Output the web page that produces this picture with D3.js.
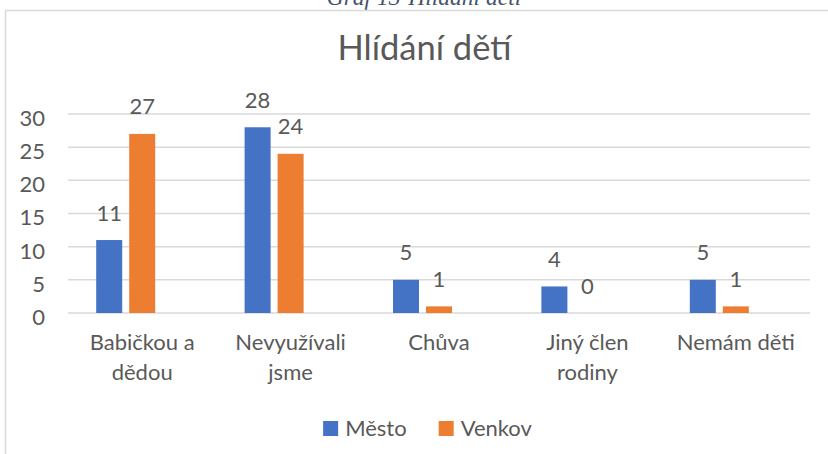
<!DOCTYPE html>
<html>
<head>
<meta charset="utf-8">
<script src="https://cdn.jsdelivr.net/npm/d3@7"></script>
<style>
  body { margin: 0; background: #fff; }
  text { font-family: Lato, "Open Sans", sans-serif; fill: #595959; }
</style>
</head>
<body>
<div id="chart"></div>
<script>
// data
const categories = ['Babičkou a dědou', 'Nevyužívali jsme', 'Chůva', 'Jiný člen rodiny', 'Nemám děti'];
const mesto = [11, 28, 5, 4, 5];
const venkov = [27, 24, 1, 0, 1];
const seriesNames = ['Město', 'Venkov'];
const seriesColors = ['#4472c4', '#ed7d31'];
const yTicks = [0, 5, 10, 15, 20, 25, 30];
const title = 'Hlídání dětí';
const caption = 'Graf 13-Hlídání dětí';

const W = 828, H = 454;
const plot = { left: 68, right: 810, top: 114, bottom: 313 };
const fs = '22px';

const svg = d3.select('#chart')
              .append('svg')
              .attr('width', W)
              .attr('height', H);

// caption above the chart frame (cut off at the top, like the source)
svg.append('text')
   .attr('x', 424)
   .attr('y', 5)
   .attr('text-anchor', 'middle')
   .style('font-family', '"Liberation Serif", serif')
   .style('font-style', 'italic')
   .style('font-size', '23.5px')
   .style('fill', '#44546a')
   .text(caption);

// chart frame
svg.append('rect')
   .attr('x', 5.5)
   .attr('y', 10.5)
   .attr('width', 1000)
   .attr('height', 1000)
   .attr('fill', 'none')
   .attr('stroke', '#d9d9d9')
   .attr('stroke-width', 1.5);

svg.append('text')
   .attr('x', 424.5)
   .attr('y', 60)
   .attr('text-anchor', 'middle')
   .style('font-size', '34.5px')
   .text(title);

const x0 = d3.scaleBand()
             .domain(categories)
             .range([plot.left, plot.right]);

// third empty slot: the original chart keeps room for a blank series
const x1 = d3.scaleBand()
             .domain([...seriesNames, ''])
             .range([0, x0.bandwidth()])
             .paddingInner(7 / 33)
             .paddingOuter(0.8545);

const y = d3.scaleLinear()
            .domain([0, 30])
            .range([plot.bottom, plot.top]);

// gridlines
svg.append('g')
   .selectAll('line')
   .data(yTicks)
   .enter()
   .append('line')
   .attr('x1', plot.left)
   .attr('x2', plot.right)
   .attr('y1', d => y(d))
   .attr('y2', d => y(d))
   .attr('stroke', '#d9d9d9')
   .attr('stroke-width', 1.5);

// y labels
const yAxis = d3.axisLeft(y).tickValues(yTicks).tickSize(0).tickPadding(23);
const yG = svg.append('g')
              .attr('transform', `translate(${plot.left}, 0)`)
              .call(yAxis);
yG.select('.domain').remove();
yG.selectAll('text')
  .attr('dy', '0.7em')
  .attr('y', -4)
  .style('font-size', fs)
  .style('font-family', 'Lato, sans-serif')
  .attr('fill', '#595959');

// bars
const rows = categories.map((c, i) => ({ cat: c, vals: [mesto[i], venkov[i]] }));

const groups = svg.selectAll('.grp')
                  .data(rows)
                  .enter()
                  .append('g')
                  .attr('class', 'grp')
                  .attr('transform', d => `translate(${x0(d.cat)}, 0)`);

groups.selectAll('rect')
      .data(d => d.vals.map((v, k) => ({ name: seriesNames[k], v, k })))
      .enter()
      .append('rect')
      .attr('x', d => x1(d.name))
      .attr('y', d => y(d.v))
      .attr('width', x1.bandwidth())
      .attr('height', d => y(0) - y(d.v))
      .attr('fill', d => seriesColors[d.k]);

groups.selectAll('.lbl')
      .data(d => d.vals.map((v, k) => ({ name: seriesNames[k], v, k })))
      .enter()
      .append('text')
      .attr('class', 'lbl')
      .attr('x', d => x1(d.name) + x1.bandwidth() / 2)
      .attr('y', d => y(d.v) - 19.5)
      .attr('text-anchor', 'middle')
      .style('font-size', fs)
      .text(d => d.v);

// category labels, wrapped like Excel
const catG = svg.append('g');
categories.forEach(c => {
  const t = catG.append('text')
                .attr('text-anchor', 'middle')
                .style('font-size', fs);
  const words = c.split(' ');
  let lines = [], cur = [];
  words.forEach(w => {
    cur.push(w);
    t.text(cur.join(' '));
    if (t.node().getComputedTextLength() > 135 && cur.length > 1) {
      cur.pop();
      lines.push(cur.join(' '));
      cur = [w];
    }
  });
  lines.push(cur.join(' '));
  t.text(null);
  lines.forEach((l, i) => {
    t.append('tspan')
     .attr('x', x0(c) + x0.bandwidth() / 2)
     .attr('y', 350 + i * 30)
     .text(l);
  });
});

// legend
const leg = svg.append('g');
let lx = 0;
seriesNames.forEach((n, i) => {
  const g = leg.append('g').attr('transform', `translate(${lx}, 0)`);
  g.append('rect')
   .attr('x', 0)
   .attr('y', 421)
   .attr('width', 15)
   .attr('height', 15)
   .attr('fill', seriesColors[i]);
  const t = g.append('text')
             .attr('x', 22)
             .attr('y', 436)
             .style('font-size', fs)
             .text(n);
  lx += 22 + t.node().getComputedTextLength() + 32;
});
const legW = lx - 32;
leg.attr('transform', `translate(${427.5 - legW / 2}, 0)`);
</script>
</body>
</html>
